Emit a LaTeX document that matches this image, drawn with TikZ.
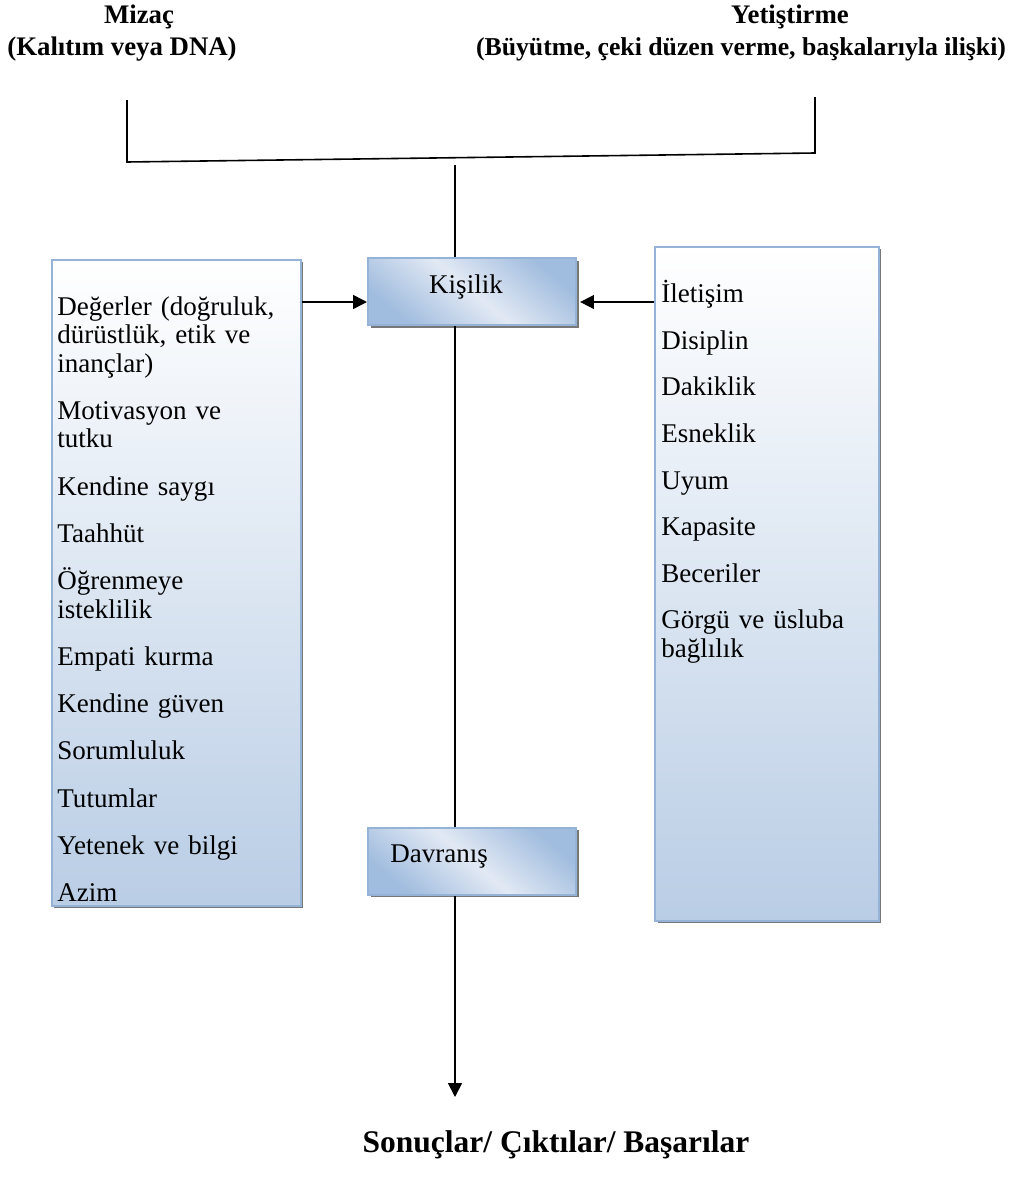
\documentclass[tikz,border=0pt]{standalone}
\usepackage{fontspec}
\setmainfont{Liberation Serif}
\usetikzlibrary{arrows.meta,calc}

\definecolor{boxedge}{RGB}{149,179,215}
\definecolor{boxlow}{RGB}{185,205,229}
\definecolor{boxmid}{RGB}{226,233,244}
\definecolor{boxend}{RGB}{160,188,222}
\definecolor{shadowgray}{RGB}{120,120,120}

\tikzset{
  link/.style={draw=black, line width=0.75pt},
  arrowlink/.style={link, -{Triangle[length=6.5pt,width=6.5pt]}},
  tallbox/.style={draw=boxedge, line width=1pt, top color=white, bottom color=boxlow,
    inner sep=0pt, anchor=north west},
  smallbox/.style={draw=boxedge, line width=1pt, shading=axis, top color=boxend,
    bottom color=boxend, middle color=boxmid, shading angle=-40, inner sep=0pt, anchor=north west},
  boxshadow/.style={fill=shadowgray, draw=none},
  itemtext/.style={anchor=north west, inner sep=0pt, align=left, font=\fontsize{12.7}{13.4}\selectfont},
  headtext/.style={inner sep=0pt, anchor=base, font=\fontsize{12.6}{14}\selectfont\bfseries},
}

\begin{document}
\begin{tikzpicture}[x=0.47pt,y=-0.47pt]
\useasboundingbox (0,0) rectangle (1018,1191);

% headings
\node[headtext] (mizac) at (139,23) {Mizaç};
\node[headtext] (mizacsub) at (122,55) {(Kalıtım veya DNA)};
\node[headtext] (yetis) at (790,23) {Yetiştirme};
\node[headtext, font=\fontsize{12.1}{14}\selectfont\bfseries] (yetissub) at (741,55) {(Büyütme, çeki düzen verme, başkalarıyla ilişki)};

% shadows
\fill[boxshadow] (54,262) rectangle (303,908);
\fill[boxshadow] (658,249) rectangle (881,923);
\fill[boxshadow] (371,261) rectangle (579,328);
\fill[boxshadow] (371,830) rectangle (579,897);

% left list box
\node[tallbox, minimum width=249*0.47pt, minimum height=646*0.47pt] (values) at (51,259) {};
\node[itemtext, text width=240*0.47pt] (valuestext) at (57,296) {%
  \setlength{\parskip}{8.8pt}%
  Değerler (doğruluk, dürüstlük, etik ve inançlar)\par
  Motivasyon ve\\ tutku\par
  Kendine saygı\par
  Taahhüt\par
  Öğrenmeye\\ isteklilik\par
  Empati kurma\par
  Kendine güven\par
  Sorumluluk\par
  Tutumlar\par
  Yetenek ve bilgi\par
  Azim};

% right list box
\node[tallbox, minimum width=224*0.47pt, minimum height=674*0.47pt] (skills) at (654,246) {};
\node[itemtext, text width=210*0.47pt] (skillstext) at (661,280) {%
  \setlength{\parskip}{8.5pt}%
  İletişim\par
  Disiplin\par
  Dakiklik\par
  Esneklik\par
  Uyum\par
  Kapasite\par
  Beceriler\par
  Görgü ve üsluba\\ bağlılık};

% centre boxes
\node[smallbox, minimum width=208*0.47pt, minimum height=67*0.47pt] (kisilik) at (367,257) {};
\node[itemtext, anchor=base] (kisiliktext) at (466,293) {Kişilik};
\node[smallbox, minimum width=208*0.47pt, minimum height=67*0.47pt] (davranis) at (367,827) {};
\node[itemtext, anchor=base west] (davranistext) at (390,862) {Davranış};

% result
\node[headtext, font=\fontsize{14.8}{16}\selectfont\bfseries] (result) at (556,1152) {Sonuçlar/ Çıktılar/ Başarılar};

% top bracket joining the two influences
\coordinate (mizacfoot) at (127,100);
\coordinate (yetisfoot) at (815,97);
\coordinate (bracketleft) at (127,162);
\coordinate (bracketright) at (815,153);
\coordinate (stemtop) at (455,165);
\draw[link] (mizacfoot) -- (bracketleft) -- (bracketright) -- (yetisfoot);
\draw[link] (stemtop) -- (kisilik.north -| stemtop);

% inputs into Kişilik
\draw[arrowlink] (values.east |- 0,302) -- (kisilik.west |- 0,302);
\draw[arrowlink] (skills.west |- 0,302) -- ($(kisilik.east |- 0,302)+(3,0)$);

% Kişilik to Davranış to results
\draw[link] (kisilik.south -| stemtop) -- (davranis.north -| stemtop);
\coordinate (arrowend) at (455,1097);
\draw[arrowlink] (davranis.south -| stemtop) -- (arrowend);
\end{tikzpicture}
\end{document}
